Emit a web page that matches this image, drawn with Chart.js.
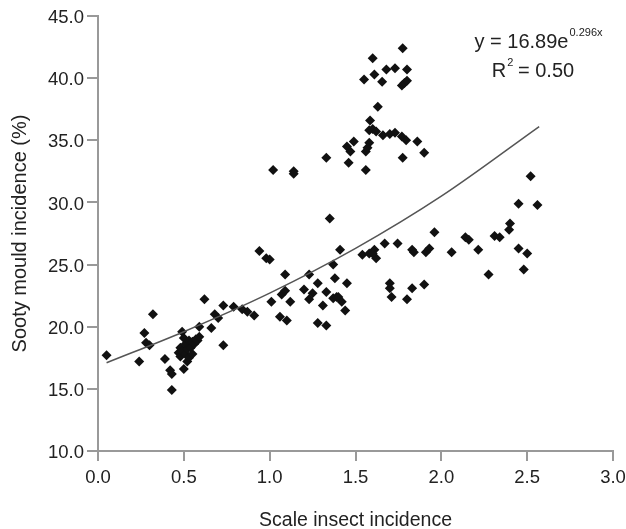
<!DOCTYPE html>
<html>
<head>
<meta charset="utf-8">
<script src="https://cdn.jsdelivr.net/npm/chart.js@4/dist/chart.umd.min.js"></script>
<style>
  html, body { margin: 0; padding: 0; background: #fff; }
  #wrap { width: 626px; height: 529px; }
</style>
</head>
<body>
<div id="wrap"><canvas id="chart"></canvas></div>
<script>
// scale insect incidence (x) of each observation
const insectX = [
    0.05, 0.24, 0.27, 0.28, 0.30, 0.32, 0.39, 0.42, 0.43, 0.43,
    0.47, 0.48, 0.48, 0.49, 0.49, 0.50, 0.50, 0.51, 0.51, 0.52,
    0.52, 0.53, 0.53, 0.54, 0.55, 0.55, 0.56, 0.57, 0.58, 0.59,
    0.59, 0.62, 0.66, 0.68, 0.70, 0.73, 0.73, 0.79, 0.84, 0.87,
    0.91,
    0.94, 0.98, 1.00, 1.02, 1.01, 1.06, 1.10, 1.07, 1.09, 1.09,
    1.12, 1.14, 1.14, 1.20, 1.23, 1.23, 1.25, 1.28, 1.28, 1.31,
    1.33, 1.33, 1.33, 1.35, 1.37, 1.37, 1.38, 1.39, 1.40, 1.41,
    1.42, 1.44, 1.45, 1.45, 1.46, 1.47, 1.49,
    1.775, 1.60, 1.68, 1.73, 1.80, 1.55, 1.61, 1.655, 1.77, 1.785,
    1.80, 1.63, 1.585, 1.58, 1.60, 1.62, 1.66, 1.70, 1.73, 1.77,
    1.795, 1.86, 1.90, 1.775, 1.56, 1.56, 1.58, 1.57,
    1.54, 1.58, 1.61, 1.62, 1.60, 1.67, 1.745, 1.83, 1.84, 1.91,
    1.93, 1.96, 2.06, 2.14, 2.16, 2.215, 2.275, 2.31, 2.34, 2.395,
    2.40, 2.45, 2.50, 2.48, 2.52, 2.45, 2.56,
    1.70, 1.70, 1.71, 1.80, 1.83, 1.90
];
// sooty mould incidence (%) of each observation
const mouldY = [
    17.7, 17.2, 19.5, 18.7, 18.5, 21.0, 17.4, 16.5, 16.2, 14.9,
    17.9, 18.3, 17.6, 19.6, 18.0, 19.1, 16.6, 17.8, 18.6, 17.2,
    18.2, 17.5, 18.9, 18.3, 17.8, 18.8, 18.6, 19.0, 18.9, 19.2,
    20.0, 22.2, 19.9, 21.0, 20.7, 21.7, 18.5, 21.6, 21.4, 21.2,
    20.9,
    26.1, 25.5, 25.4, 32.6, 22.0, 20.8, 20.5, 22.6, 22.9, 24.2,
    22.0, 32.5, 32.3, 23.0, 24.2, 22.2, 22.7, 23.5, 20.3, 21.7,
    22.8, 20.1, 33.6, 28.7, 22.3, 25.0, 23.9, 22.4, 22.4, 26.2,
    22.0, 21.3, 23.5, 34.5, 33.2, 34.1, 34.9,
    42.4, 41.6, 40.7, 40.8, 40.7, 39.9, 40.3, 39.7, 39.4, 39.6,
    39.8, 37.7, 36.6, 35.8, 35.9, 35.7, 35.4, 35.5, 35.6, 35.3,
    35.0, 34.9, 34.0, 33.6, 32.6, 34.1, 34.8, 34.4,
    25.8, 25.9, 26.2, 25.5, 25.9, 26.7, 26.7, 26.2, 26.0, 26.0,
    26.3, 27.6, 26.0, 27.2, 27.0, 26.2, 24.2, 27.3, 27.2, 27.8,
    28.3, 26.3, 25.9, 24.6, 32.1, 29.9, 29.8,
    23.5, 23.1, 22.4, 22.2, 23.1, 23.4
];

// exponential trend line
const trendX = [0.05, 0.5, 1.0, 1.5, 2.0, 2.57];
const trendY = [17.1, 19.6, 22.7, 26.3, 30.5, 36.1];

const xTicks = [0, 0.5, 1.0, 1.5, 2.0, 2.5, 3.0];
const yTicks = [10, 15, 20, 25, 30, 35, 40, 45];

const eqMain = 'y = 16.89e';
const eqExp = '0.296x';
const r2Label = 'R';
const r2Sup = '2';
const r2Value = ' = 0.50';

const FONT = "'Liberation Sans', Arial, sans-serif";
const AXIS = '#999';

const points = insectX.map((x, i) => ({ x: x, y: mouldY[i] }));
const trend = trendX.map((x, i) => ({ x: x, y: trendY[i] }));

// equation and R² in the upper right
const equationPlugin = {
    id: 'equation',
    afterDraw(chart) {
        const ctx = chart.ctx;
        ctx.save();
        ctx.fillStyle = '#222';
        ctx.textBaseline = 'alphabetic';
        ctx.textAlign = 'left';

        ctx.font = '20px ' + FONT;
        const w1 = ctx.measureText(eqMain).width;
        ctx.font = '11px ' + FONT;
        const w2 = ctx.measureText(eqExp).width;
        let x = 538 - (w1 + w2) / 2;
        ctx.font = '20px ' + FONT;
        ctx.fillText(eqMain, x, 48);
        ctx.font = '11px ' + FONT;
        ctx.fillText(eqExp, x + w1 + 1, 36);

        ctx.font = '20px ' + FONT;
        const wr = ctx.measureText(r2Label).width;
        const wv = ctx.measureText(r2Value).width;
        ctx.font = '11px ' + FONT;
        const ws = ctx.measureText(r2Sup).width;
        x = 533 - (wr + ws + wv) / 2;
        ctx.font = '20px ' + FONT;
        ctx.fillText(r2Label, x, 77);
        ctx.font = '11px ' + FONT;
        ctx.fillText(r2Sup, x + wr + 1, 66);
        ctx.font = '20px ' + FONT;
        ctx.fillText(r2Value, x + wr + ws, 77);
        ctx.restore();
    }
};

new Chart(document.getElementById('chart'), {
    type: 'scatter',
    data: {
        datasets: [
            {
                label: 'Observations',
                data: points,
                pointStyle: 'rectRot',
                pointRadius: 5,
                backgroundColor: '#111',
                borderColor: '#111',
                borderWidth: 0,
                order: 2
            },
            {
                type: 'line',
                label: 'Trend',
                data: trend,
                showLine: true,
                pointRadius: 0,
                borderColor: '#555',
                borderWidth: 1.5,
                cubicInterpolationMode: 'monotone',
                fill: false,
                order: 1
            }
        ]
    },
    options: {
        responsive: true,
        maintainAspectRatio: false,
        animation: false,
        layout: { padding: { top: 16, right: 13, left: 0, bottom: 0 } },
        plugins: {
            legend: { display: false },
            tooltip: { enabled: false }
        },
        scales: {
            x: {
                type: 'linear',
                min: 0,
                max: 3,
                afterBuildTicks: s => { s.ticks = xTicks.map(v => ({ value: v })); },
                // fixed height, and no extra room for the last label
                afterFit: s => { s.height = 78; s.paddingLeft = 0; s.paddingRight = 0; },
                ticks: {
                    callback: v => v.toFixed(1),
                    color: '#222',
                    font: { family: FONT, size: 18.5 },
                    padding: 6,
                    maxRotation: 0
                },
                grid: { drawOnChartArea: false, tickLength: 10, color: AXIS, lineWidth: 2 },
                border: { color: AXIS, width: 2 },
                title: {
                    display: true,
                    text: 'Scale insect incidence',
                    color: '#222',
                    font: { family: FONT, size: 19.5 },
                    padding: { top: 0, bottom: -3 }
                }
            },
            y: {
                min: 10,
                max: 45,
                afterBuildTicks: s => { s.ticks = yTicks.map(v => ({ value: v })); },
                afterFit: s => { s.width = 98; },
                ticks: {
                    callback: v => v.toFixed(1),
                    color: '#222',
                    font: { family: FONT, size: 18.5 },
                    padding: 3,
                    labelOffset: 2
                },
                grid: { drawOnChartArea: false, tickLength: 11, color: AXIS, lineWidth: 2 },
                border: { color: AXIS, width: 2 },
                title: {
                    display: true,
                    text: 'Sooty mould incidence (%)',
                    color: '#222',
                    font: { family: FONT, size: 20 },
                    padding: { top: 8, bottom: 0 }
                }
            }
        }
    },
    plugins: [equationPlugin]
});
</script>
</body>
</html>
